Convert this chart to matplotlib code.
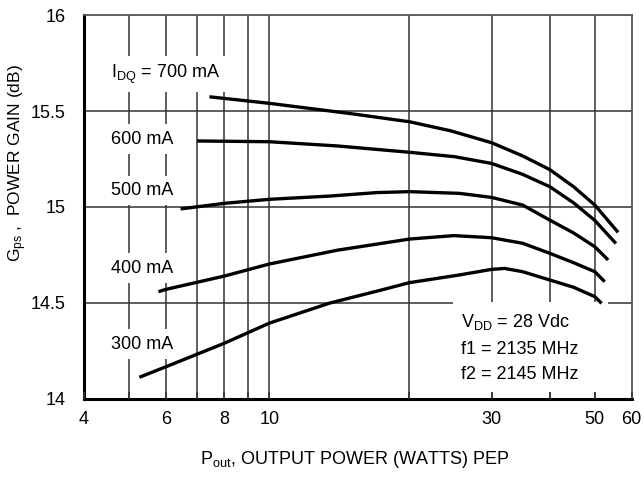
import matplotlib
matplotlib.use("Agg")
import matplotlib.pyplot as plt
from matplotlib.patches import Rectangle

plt.rcParams['font.family'] = ['Liberation Sans', 'DejaVu Sans']
plt.rcParams['mathtext.fontset'] = 'custom'
plt.rcParams['mathtext.rm'] = 'Liberation Sans'
plt.rcParams['mathtext.it'] = 'Liberation Sans'

# data (Pout in W, gain in dB)
x700 = [7.44, 10, 15, 20, 24.5, 30, 35, 40, 45, 50, 56.1]
y700 = [15.574, 15.54, 15.486, 15.444, 15.397, 15.335, 15.266, 15.195, 15.106, 15.01, 14.868]

x600 = [7.0, 10, 14, 20, 25, 30, 35, 40, 45, 50, 55.5]
y600 = [15.344, 15.34, 15.318, 15.285, 15.262, 15.227, 15.17, 15.106, 15.022, 14.93, 14.81]

x500 = [6.45, 8, 10, 13.5, 17, 20, 25.6, 30, 35, 40, 45, 50, 53.4]
y500 = [14.99, 15.019, 15.04, 15.057, 15.075, 15.08, 15.071, 15.05, 15.01, 14.932, 14.865, 14.793, 14.724]

x400 = [5.78, 6, 8, 10, 14, 20, 24.9, 30, 35, 40, 45, 50, 52.5]
y400 = [14.559, 14.571, 14.64, 14.703, 14.775, 14.833, 14.851, 14.84, 14.811, 14.759, 14.71, 14.663, 14.611]

x300 = [5.26, 6, 8, 10, 13.5, 17.3, 20, 25.6, 30, 32, 35, 40, 45, 50, 51.7]
y300 = [14.113, 14.168, 14.29, 14.395, 14.5, 14.566, 14.606, 14.646, 14.675, 14.68, 14.663, 14.62, 14.582, 14.533, 14.498]

curve_labels = ['I$_\\mathrm{DQ}$ = 700 mA', '600 mA', '500 mA', '400 mA', '300 mA']
label_y = [15.693, 15.354, 15.085, 14.681, 14.286]

xticks = [4, 5, 6, 7, 8, 9, 10, 20, 30, 40, 50, 60]
xticklabels = ['4', '', '6', '', '8', '', '10', '', '30', '', '50', '60']
yticks = [14, 14.5, 15, 15.5, 16]
yticklabels = ['14', '14.5', '15', '15.5', '16']

note = ['V$_\\mathrm{DD}$ = 28 Vdc', 'f1 = 2135 MHz', 'f2 = 2145 MHz']

fig = plt.figure(figsize=(6.44, 4.78), dpi=100)
ax = fig.add_axes([0.1304, 0.1653, 0.8505, 0.8033])
ax.set_xscale('log')
ax.set_xlim(4, 60)
ax.set_ylim(14, 16)

# grid drawn by hand so the white label boxes can sit on top of it
for xv in xticks[1:-1]:
    ax.axvline(xv, color='#333333', lw=1.1, zorder=1)
for yv in yticks[1:-1]:
    ax.axhline(yv, color='#333333', lw=1.1, zorder=1)

for xs, ys in [(x700, y700), (x600, y600), (x500, y500), (x400, y400), (x300, y300)]:
    ax.plot(xs, ys, color='black', lw=2.4, solid_capstyle='butt', zorder=4)

for lab, yv in zip(curve_labels, label_y):
    ax.text(4.58, yv, lab, fontsize=13, ha='left', va='center', zorder=3,
            bbox=dict(facecolor='white', edgecolor='none', pad=4.5))

ax.add_patch(Rectangle((0.674, 0.018), 0.283, 0.234, transform=ax.transAxes,
                       facecolor='white', edgecolor='none', zorder=2))
for txt, yf in zip(note, [0.201, 0.130, 0.065]):
    ax.text(0.688, yf, txt, transform=ax.transAxes, fontsize=13,
            ha='left', va='center', zorder=3)

ax.set_xticks(xticks)
ax.set_xticklabels(xticklabels)
ax.minorticks_off()
ax.set_yticks(yticks)
ax.set_yticklabels(yticklabels)
ax.tick_params(axis='x', direction='in', length=5, width=1.1, color='#333333',
               labelsize=13, pad=9)
ax.tick_params(axis='y', length=0, labelsize=13, pad=13)
ax.set_axisbelow(False)

for s in ['left', 'bottom']:
    ax.spines[s].set_linewidth(2.2)
    ax.spines[s].set_color('black')
for s in ['top', 'right']:
    ax.spines[s].set_linewidth(1.3)
    ax.spines[s].set_color('#555555')

fig.text(0.55, 0.038, 'P$_\\mathrm{out}$, OUTPUT POWER (WATTS) PEP', fontsize=13,
         ha='center', va='center')
fig.text(0.028, 0.659, 'G$_\\mathrm{ps}$ ,  POWER GAIN (dB)', fontsize=12.5,
         rotation=90, ha='center', va='center')

fig.savefig('out.png', dpi=100)
